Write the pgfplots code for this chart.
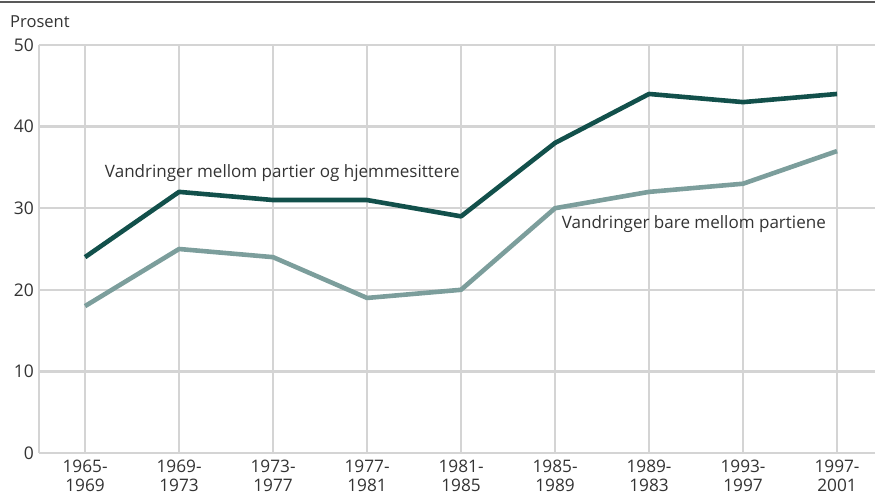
\documentclass[border=0pt]{standalone}
\usepackage{pgfplots}
\pgfplotsset{compat=1.18}
\usepackage{fontspec}
\setmainfont{Open Sans}
\definecolor{darkline}{HTML}{12504B}
\definecolor{lightline}{HTML}{7C9E9C}
\definecolor{gridc}{HTML}{D4D4D4}
\definecolor{txt}{HTML}{333333}
\begin{document}
\begin{tikzpicture}[x=1bp,y=1bp]
\useasboundingbox (-39,-42) rectangle (836,453);
\draw[color=black!65, line width=1.6bp] (-39,451) -- (836,451);
\begin{axis}[
  at={(0,0)}, anchor=south west,
  scale only axis, width=836bp, height=408bp,
  xmin=-0.49, xmax=8.404, ymin=0, ymax=50,
  xtick={0,...,8},
  xticklabels={{1965-\\1969},{1969-\\1973},{1973-\\1977},{1977-\\1981},{1981-\\1985},{1985-\\1989},{1989-\\1983},{1993-\\1997},{1997-\\2001}},
  xticklabel style={align=center, font=\fontsize{17.3}{19}\selectfont, text=txt, inner sep=0pt, yshift=-7bp},
  ytick={0,10,...,50},
  yticklabel style={font=\fontsize{17.5}{18}\selectfont, text=txt, inner sep=0pt, xshift=-5bp},
  /pgf/number format/assume math mode=true,
  grid=major, major grid style={gridc, line width=2.5bp},
  axis line style={draw=none},
  axis x line=bottom, axis y line=left,
  major tick length=0pt,
  clip=false,
]
\draw[gridc, line width=2.5bp] (axis cs:-0.49,0) -- (axis cs:-0.49,50);
\addplot[darkline, line width=4.6bp, line join=round] coordinates {(0,24) (1,32) (2,31) (3,31) (4,29) (5,38) (6,44) (7,43) (8,44)};
\addplot[lightline, line width=4.6bp, line join=round] coordinates {(0,18) (1,25) (2,24) (3,19) (4,20) (5,30) (6,32) (7,33) (8,37)};
\node[anchor=west, text=txt, font=\fontsize{17.1}{18}\selectfont, inner sep=0pt] at (axis cs:0.21,34.3) {Vandringer mellom partier og hjemmesittere};
\node[anchor=west, text=txt, font=\fontsize{17.1}{18}\selectfont, inner sep=0pt] at (axis cs:5.07,28.06) {Vandringer bare mellom partiene};
\node[anchor=south west, text=txt, font=\fontsize{16.6}{17}\selectfont, inner sep=0pt] at (axis cs:-0.49,50) [xshift=-29bp, yshift=17bp] {Prosent};
\end{axis}
\end{tikzpicture}
\end{document}
